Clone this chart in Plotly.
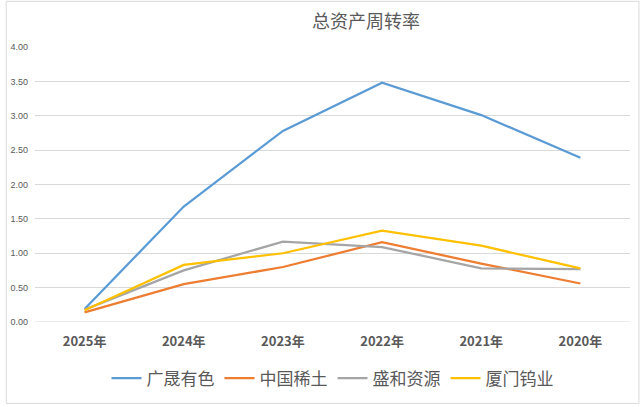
import plotly.graph_objects as go

years = ["2025年", "2024年", "2023年", "2022年", "2021年", "2020年"]
gssy = [0.19, 1.68, 2.78, 3.48, 3.01, 2.39]
zgxt = [0.14, 0.55, 0.80, 1.16, 0.85, 0.56]
shzy = [0.18, 0.75, 1.17, 1.09, 0.78, 0.77]
xmwy = [0.17, 0.83, 1.00, 1.33, 1.11, 0.78]

series = [
    ("广晟有色", gssy, "#5B9BD5"),
    ("中国稀土", zgxt, "#ED7D31"),
    ("盛和资源", shzy, "#A5A5A5"),
    ("厦门钨业", xmwy, "#FFC000"),
]

fig = go.Figure()
for name, vals, color in series:
    fig.add_trace(go.Scatter(x=years, y=vals, name=name, mode="lines",
                             line=dict(color=color, width=2.25)))

W, H = 640, 407
L, R, T, B = 30, 10, 47, 83
pw, ph = W - L - R, H - T - B

fig.update_layout(
    width=W, height=H,
    margin=dict(l=L, r=R, t=T, b=B),
    paper_bgcolor="white", plot_bgcolor="white",
    font=dict(family="Noto Sans CJK SC, Noto Sans, sans-serif", color="#595959"),
    title=dict(text="总资产周转率", x=366 / W, xanchor="center",
               y=1 - 22 / H, yanchor="middle",
               font=dict(size=18, color="#595959", family="Noto Sans CJK SC")),
    xaxis=dict(showgrid=False, showline=False, ticks="", range=[-0.5, 5.5],
               ticklabelstandoff=10,
               tickfont=dict(size=13, color="#595959", family="Noto Sans CJK SC", weight="bold")),
    yaxis=dict(range=[0, 4], dtick=0.5, tickformat=".2f", showgrid=True,
               gridcolor="#D9D9D9", gridwidth=1, zeroline=False, showline=False,
               tickfont=dict(size=9, color="#595959", family="Liberation Sans"),
               ticklabelstandoff=6),
    legend=dict(orientation="h", x=0.5, xanchor="center",
                y=(T + ph - 381) / ph, yanchor="middle",
                font=dict(size=17, color="#595959", family="Noto Sans CJK SC"),
                itemwidth=30, tracegroupgap=0),
    showlegend=True,
)
fig.add_shape(type="line", xref="paper", yref="y", x0=0, x1=1, y0=0, y1=0,
              line=dict(color="#D9D9D9", width=1))
fig.add_shape(type="rect", xref="paper", yref="paper",
              x0=-(L - 1) / pw, x1=1 + (R - 1) / pw,
              y0=-(B - 1) / ph, y1=1 + (T - 1) / ph,
              line=dict(color="#D9D9D9", width=1))

fig.write_html("out.html", config={"displayModeBar": False},
               post_script="document.body.style.margin='0';document.body.style.overflow='hidden';")
